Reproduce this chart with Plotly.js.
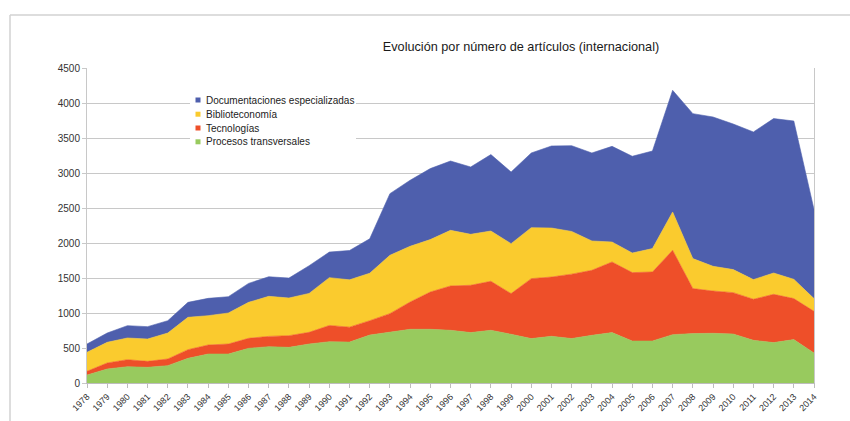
<!DOCTYPE html>
<html>
<head>
<meta charset="utf-8">
<script src="https://cdn.plot.ly/plotly-3.0.1.min.js"></script>
<style>
  html, body { margin: 0; padding: 0; background: #ffffff; }
  #chart { width: 850px; height: 421px; }
</style>
</head>
<body>
<div id="chart"></div>
<script>
// ---- Data ----
const years = [1978,1979,1980,1981,1982,1983,1984,1985,1986,1987,1988,1989,1990,1991,1992,1993,1994,1995,1996,1997,1998,1999,2000,2001,2002,2003,2004,2005,2006,2007,2008,2009,2010,2011,2012,2013,2014];

const seriesNames = ["Procesos transversales", "Tecnologías", "Biblioteconomía", "Documentaciones especializadas"];

const procesosTransversales = [114,200,233,224,248,352,414,414,495,519,509,557,590,584,685,729,767,767,753,720,753,696,634,667,635,681,720,600,600,691,706,710,700,610,577,620,429];

const tecnologias = [53,86,100,85,95,124,129,143,143,147,167,167,232,214,205,262,390,533,633,676,700,581,857,847,920,929,1009,977,986,1205,643,604,591,586,690,586,595];

const biblioteconomia = [271,295,310,319,371,462,419,443,514,572,538,556,683,676,678,833,796,749,795,728,718,714,728,700,610,419,285,280,334,547,428,353,329,281,304,275,182];

const documentacionesEspecializadas = [119,133,176,177,176,214,247,233,271,280,285,396,365,419,492,881,943,1014,990,962,1092,1023,1067,1172,1225,1257,1367,1382,1394,1738,2071,2133,2080,2109,2206,2262,1274];

const yTickVals = [0,500,1000,1500,2000,2500,3000,3500,4000,4500];

const chartTitle = "Evolución por número de artículos (internacional)";

// ---- Styles ----
const colors = {
  "Procesos transversales": "#98CA5E",
  "Tecnologías": "#EE4F29",
  "Biblioteconomía": "#FACB2E",
  "Documentaciones especializadas": "#4E5FAD"
};
const font = "Liberation Sans, Arial, sans-serif";

// plot area in pixels
const L = 87, R = 814, T = 68, B = 383;
const px = v => (v - L) / (R - L);
const py = v => (B - v) / (B - T);

const values = [procesosTransversales, tecnologias, biblioteconomia, documentacionesEspecializadas];

const traces = seriesNames.map((name, i) => ({
  type: "scatter",
  x: years,
  y: values[i],
  name: name,
  stackgroup: "one",
  mode: "lines",
  line: { width: 0.6, color: colors[name] },
  fillcolor: colors[name],
  showlegend: false,
  hoverinfo: "skip"
}));

// legend drawn as annotations + small squares (top to bottom: reversed series order)
const legendOrder = seriesNames.slice().reverse();
const legendRowsY = [100, 114.2, 128, 141.8];

const shapes = [
  // outer frame (left and top edges)
  { type: "line", xref: "paper", yref: "paper", x0: px(10), x1: px(10), y0: py(15), y1: py(430),
    line: { color: "#d2d2d2", width: 1.5 } },
  { type: "line", xref: "paper", yref: "paper", x0: px(10), x1: px(860), y0: py(15), y1: py(15),
    line: { color: "#d2d2d2", width: 1.5 } },
  // legend background
  { type: "rect", xref: "paper", yref: "paper", x0: px(190), x1: px(356), y0: py(150), y1: py(91),
    fillcolor: "#ffffff", line: { width: 0 }, layer: "above" }
];
const annotations = [];
legendOrder.forEach((name, k) => {
  const yc = legendRowsY[k];
  shapes.push({
    type: "rect", xref: "paper", yref: "paper",
    x0: px(195.5), x1: px(200.5), y0: py(yc + 2.5), y1: py(yc - 2.5),
    fillcolor: colors[name], line: { width: 0 }, layer: "above"
  });
  annotations.push({
    xref: "paper", yref: "paper", x: px(203.5), y: py(yc),
    xanchor: "left", yanchor: "middle", showarrow: false,
    text: name, font: { family: font, size: 10, color: "#222222" }
  });
});

const layout = {
  width: 850, height: 421,
  margin: { l: L, r: 850 - R, t: T, b: 421 - B, pad: 0 },
  paper_bgcolor: "#ffffff",
  plot_bgcolor: "#ffffff",
  showlegend: false,
  hovermode: false,
  title: {
    text: chartTitle,
    font: { family: font, size: 12.7, color: "#1a1a1a" },
    xref: "paper", x: px(521), xanchor: "center",
    yref: "container", y: 1 - 47 / 421, yanchor: "middle"
  },
  xaxis: {
    type: "linear",
    range: [years[0], years[years.length - 1]],
    tickmode: "array",
    tickvals: years,
    ticktext: years.map(String),
    tickangle: -45,
    tickfont: { family: font, size: 9, color: "#333333" },
    ticks: "outside", ticklen: 4, tickcolor: "#bdbdbd", tickwidth: 1,
    showgrid: false, zeroline: false,
    showline: true, linecolor: "#bdbdbd", linewidth: 1,
    fixedrange: true
  },
  yaxis: {
    range: [0, 4500],
    tickmode: "array",
    tickvals: yTickVals,
    ticktext: yTickVals.map(String),
    tickfont: { family: font, size: 10, color: "#333333" },
    ticks: "outside", ticklen: 4, tickcolor: "#c8c8c8", tickwidth: 1,
    showgrid: true, gridcolor: "#c8c8c8", gridwidth: 1,
    zeroline: false,
    showline: true, mirror: true, linecolor: "#c8c8c8", linewidth: 1,
    fixedrange: true
  },
  shapes: shapes,
  annotations: annotations
};

Plotly.newPlot("chart", traces, layout, { displayModeBar: false, staticPlot: true });
</script>
</body>
</html>
